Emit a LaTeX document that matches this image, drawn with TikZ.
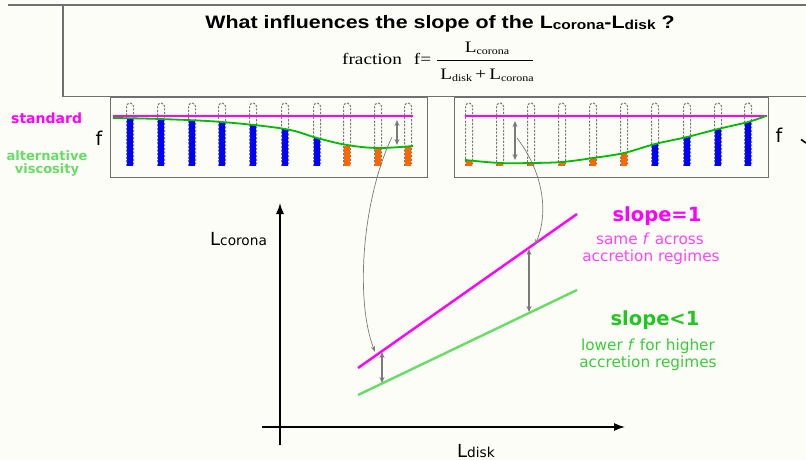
\documentclass[tikz,border=0pt]{standalone}
\usepackage{fontspec}
\setmainfont{Liberation Serif}
\newfontfamily\arialf{Liberation Sans}
\newfontfamily\dvf{DejaVu Sans}
\usetikzlibrary{arrows.meta}
\definecolor{bgc}{HTML}{FDFDF8}
\definecolor{mag}{HTML}{FF00FF}
\definecolor{lmag}{HTML}{FF44FF}
\definecolor{dgreen}{HTML}{00BB00}
\definecolor{lgreen}{HTML}{66DD66}
\definecolor{tgreen}{HTML}{22C622}
\definecolor{tlgreen}{HTML}{3ACC3A}
\definecolor{barblue}{HTML}{0000FF}
\definecolor{barorange}{HTML}{FF6600}
\definecolor{arrgray}{HTML}{7A7A7A}
\definecolor{boxgray}{HTML}{707070}
\tikzset{
  boxline/.style={draw=boxgray, line width=1.1pt},
  tubeline/.style={draw=arrgray, line width=1pt, dash pattern=on 2.2pt off 1.4pt},
  magline/.style={draw=mag, line width=1.6pt},
  gcurve/.style={draw=dgreen, line width=1.8pt},
  dblarrow/.style={draw=arrgray, line width=1.1pt, {Stealth[length=6pt,width=5pt]}-{Stealth[length=6pt,width=5pt]}},
  conn/.style={draw=arrgray, line width=0.7pt, -{Stealth[length=6pt,width=4pt]}},
  axisline/.style={draw=black, line width=1.3pt, -{Latex[length=11pt,width=8pt]}},
}
\begin{document}
\begin{tikzpicture}[x=1pt,y=-1pt]
\fill[bgc] (0,0) rectangle (806,460);
\useasboundingbox (0,0) rectangle (806,460);

% top box
\draw[boxline] (8,5) -- (806,5);
\draw[boxline] (63,5) -- (63,96.5) -- (806,96.5);
\node[font=\arialf\bfseries\fontsize{18}{20}\selectfont, anchor=base] (title) at (440,29)
  {\scalebox{1.19}[1]{What influences the slope of the L\raisebox{-1pt}{\fontsize{13}{13}\selectfont corona}-L\raisebox{-1pt}{\fontsize{13}{13}\selectfont disk} ?}};
\node[anchor=base west, inner sep=0] (fractxt) at (342,64)
  {\scalebox{1.2}[1]{\fontsize{16}{18}\selectfont fraction\hspace{6pt} f=}};
\coordinate (fbl) at (437,60.5);
\coordinate (fbr) at (533,60.5);
\draw[line width=0.9pt] (fbl) -- (fbr);
\node[anchor=base, inner sep=0] (fnum) at (487,53)
  {\scalebox{1.2}[1]{\fontsize{16}{18}\selectfont L\raisebox{-1.5pt}{\fontsize{10}{10}\selectfont corona}}};
\node[anchor=base, inner sep=0] (fden) at (487,80)
  {\scalebox{1.2}[1]{\fontsize{16}{18}\selectfont L\raisebox{-1.5pt}{\fontsize{10}{10}\selectfont disk}\,+\,L\raisebox{-1.5pt}{\fontsize{10}{10}\selectfont corona}}};

% panels
\draw[boxline, line width=1pt] (110,97.5) rectangle (427,177);
\draw[boxline, line width=1pt] (454,97.5) rectangle (768,177);

% left panel columns
\foreach \x/\t/\c in {130/118.5/barblue,161/119/barblue,192/120.5/barblue,222/122/barblue,253/125/barblue,285/129/barblue,317/138/barblue,347/146/barorange,378/149/barorange,408/147/barorange}{
  \fill[\c] (\x-3,\t) rectangle (\x+3,166);
  \draw[tubeline] (\x-3.5,166) -- (\x-3.5,106.5) arc(180:360:3.5) -- (\x+3.5,166);
}
% right panel columns
\foreach \x/\t/\c in {469/161/barorange,500/163/barorange,531/163/barorange,562/162/barorange,593/158/barorange,624/153/barorange,655/144/barblue,687/137/barblue,718/129/barblue,748/122/barblue}{
  \fill[\c] (\x-3,\t) rectangle (\x+3,166);
  \draw[tubeline] (\x-3.5,166) -- (\x-3.5,106.5) arc(180:360:3.5) -- (\x+3.5,166);
}

\draw[magline] (113,116) -- (413,116);
\draw[magline] (465,116) -- (767,116);
\draw[gcurve] plot[smooth, tension=0.6] coordinates {(113,118) (160,119) (222,122) (285,129) (317,138) (347,145) (378,148) (413,146)};
\draw[gcurve] plot[smooth, tension=0.6] coordinates {(465,160) (500,163) (531,163) (562,162) (593,158) (624,153) (655,144) (687,137) (718,129) (748,122) (766,116)};

% panel double arrows
\coordinate (pa1) at (397,120);
\coordinate (pb1) at (397,145);
\draw[dblarrow] (pa1) -- (pb1);
\coordinate (pa2) at (515,121);
\coordinate (pb2) at (515,160);
\draw[dblarrow] (pa2) -- (pb2);

% side labels
\node[font=\dvf\bfseries\fontsize{14}{16}\selectfont, text=mag, anchor=base west, inner sep=0] (std) at (11,123) {standard};
\node[font=\dvf\bfseries\fontsize{13}{13}\selectfont, text=lgreen, align=center, inner sep=0] (alt) at (47,163) {alternative\\viscosity};
\node[font=\dvf\fontsize{19}{20}\selectfont, inner sep=0] (fl) at (99,138) {f};
\node[font=\dvf\fontsize{19}{20}\selectfont, inner sep=0] (fr) at (779,135) {f};
\coordinate (tk1) at (801,139.5);
\coordinate (tk2) at (806,143);
\draw[line width=1.6pt] (tk1) -- (tk2);

% plot axes
\coordinate (yb) at (280,445);
\coordinate (yt) at (280,203);
\draw[axisline] (yb) -- (yt);
\coordinate (xl) at (262,427);
\coordinate (xr) at (625,427);
\draw[axisline] (xl) -- (xr);
\node[font=\dvf\fontsize{18}{20}\selectfont, anchor=base west, inner sep=0] (ylab) at (210,245) {L{\fontsize{13.7}{14}\selectfont corona}};
\node[font=\dvf\fontsize{18}{20}\selectfont, anchor=base west, inner sep=0] (xlab) at (457,457) {L{\fontsize{13.7}{14}\selectfont disk}};

% relation lines
\coordinate (m1) at (358,368);
\coordinate (m2) at (577,214);
\coordinate (g1) at (358,395);
\coordinate (g2) at (577,290);
\draw[draw=mag, line width=2.4pt] (m1) -- (m2);
\draw[draw=lgreen, line width=2.4pt] (g1) -- (g2);
\coordinate (da1) at (382,352);
\coordinate (db1) at (382,383);
\draw[dblarrow] (da1) -- (db1);
\coordinate (da2) at (529,249);
\coordinate (db2) at (529,312);
\draw[dblarrow] (da2) -- (db2);

% connectors
\coordinate (c1s) at (392,137);
\coordinate (c1e) at (375,352);
\draw[conn] (c1s) .. controls (362,200) and (355,300) .. (c1e);
\coordinate (c2s) at (517,138);
\coordinate (c2e) at (535,245);
\draw[conn] (c2s) .. controls (545,175) and (548,215) .. (c2e);

% right labels
\node[font=\dvf\bfseries\fontsize{19.5}{20}\selectfont, text=mag, anchor=base, inner sep=0] (s1) at (657,221) {slope=1};
\node[font=\dvf\fontsize{15.3}{16}\selectfont, text=lmag, anchor=base, inner sep=0] (s1a) at (650,244) {same \textit{f} across};
\node[font=\dvf\fontsize{15.3}{16}\selectfont, text=lmag, anchor=base, inner sep=0] (s1b) at (651,261) {accretion regimes};
\node[font=\dvf\bfseries\fontsize{19.5}{20}\selectfont, text=tgreen, anchor=base, inner sep=0] (s2) at (655,325) {slope<1};
\node[font=\dvf\fontsize{15.3}{16}\selectfont, text=tlgreen, anchor=base, inner sep=0] (s2a) at (648,350) {lower \textit{f} for higher};
\node[font=\dvf\fontsize{15.3}{16}\selectfont, text=tlgreen, anchor=base, inner sep=0] (s2b) at (648,367) {accretion regimes};
\end{tikzpicture}
\end{document}
